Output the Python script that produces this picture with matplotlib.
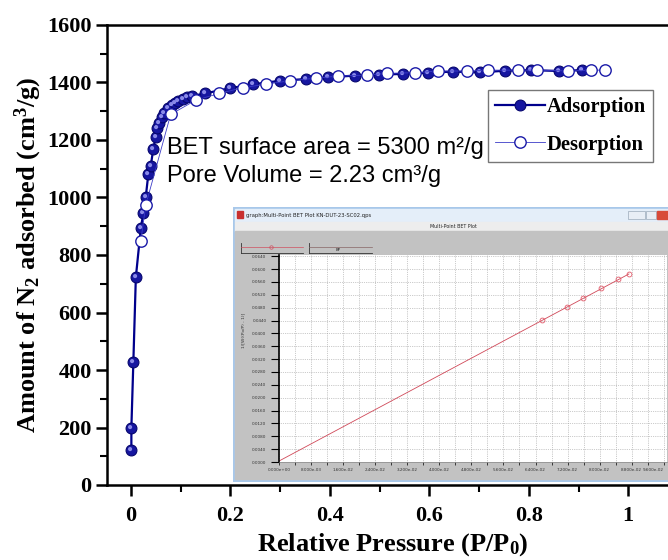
import numpy as np
import matplotlib
matplotlib.use('Agg')
import matplotlib.pyplot as plt
from matplotlib.markers import MarkerStyle
from matplotlib.transforms import Affine2D
from matplotlib.patches import Rectangle

plt.rcParams['mathtext.fontset'] = 'custom'
plt.rcParams['mathtext.rm'] = 'Liberation Serif:bold'
plt.rcParams['mathtext.it'] = 'Liberation Serif:bold'
plt.rcParams['mathtext.bf'] = 'Liberation Serif:bold'

# N2 isotherm (P/P0, cm3/g)
ads_p = [0.001, 0.001, 0.005, 0.010, 0.020, 0.025, 0.030, 0.035, 0.040, 0.045,
         0.050, 0.053, 0.057, 0.062, 0.066, 0.075, 0.082, 0.088, 0.095, 0.104,
         0.113, 0.123, 0.149, 0.199, 0.246, 0.300, 0.352, 0.397, 0.450, 0.499,
         0.547, 0.598, 0.648, 0.701, 0.752, 0.805, 0.861, 0.906]
ads_v = [122, 199, 429, 723, 893, 945, 1003, 1080, 1110, 1169,
         1211, 1241, 1260, 1279, 1293, 1312, 1322, 1328, 1336, 1342,
         1349, 1353, 1362, 1380, 1394, 1406, 1412, 1418, 1424, 1427,
         1430, 1434, 1438, 1435, 1441, 1443, 1440, 1443]
des_p = [0.953, 0.926, 0.879, 0.817, 0.779, 0.718, 0.675, 0.618, 0.571, 0.515,
         0.474, 0.416, 0.372, 0.320, 0.271, 0.225, 0.178, 0.131, 0.080, 0.030,
         0.020]
des_v = [1443, 1443, 1440, 1443, 1443, 1443, 1440, 1440, 1434, 1432,
         1426, 1422, 1415, 1406, 1394, 1382, 1362, 1339, 1289, 974,
         850]

# multi-point BET plot (screenshot inset)
bet_x = [0.0656, 0.0718, 0.0758, 0.0804, 0.0846, 0.0873]
bet_y = [0.0442, 0.0483, 0.0509, 0.0540, 0.0568, 0.0585]
fit_x = [0.0, 0.0873]
fit_y = [0.0003, 0.0585]

W, H = 668, 560
fig = plt.figure(figsize=(W / 100, H / 100), dpi=100)


def px_box(x0, y0, x1, y1):
    # pixel box with top-left origin -> figure fraction
    return [x0 / W, 1 - y1 / H, (x1 - x0) / W, (y1 - y0) / H]


serif = {'family': 'Liberation Serif', 'weight': 'bold'}

ax = fig.add_axes(px_box(107, 25, 678, 485))
ads_line, = ax.plot(ads_p, ads_v, '-', color='#00008c', lw=1.6, marker='o', ms=7.8,
                    mfc='#1616a0', mec='#06066e', mew=0.8, label='Adsorption', zorder=3)
shine = MarkerStyle('o', transform=Affine2D().scale(0.38).translate(-0.13, 0.13))
ax.plot(ads_p, ads_v, ls='none', marker=shine, ms=7.8, mfc='#8a8ae8', mec='none', zorder=3.5)
des_line, = ax.plot(des_p, des_v, '-', color='#3c3cc8', lw=0.6, marker='o', ms=8.2,
                    mfc='white', mec='#1a1aa8', mew=1.0, label='Desorption', zorder=4)

ax.set_xlim(-0.048, 1.1)
ax.set_ylim(0, 1600)
ax.set_xticks([0, 0.2, 0.4, 0.6, 0.8, 1.0])
ax.set_xticklabels(['0', '0.2', '0.4', '0.6', '0.8', '1'])
ax.set_xticks([0.1, 0.3, 0.5, 0.7, 0.9], minor=True)
ax.set_yticks(np.arange(0, 1601, 200))
ax.set_yticks(np.arange(100, 1600, 200), minor=True)
ax.tick_params(which='major', direction='out', length=8, width=1.8, labelsize=16)
ax.tick_params(axis='x', which='major', pad=7)
ax.tick_params(axis='y', which='major', pad=3)
ax.tick_params(which='minor', direction='out', length=5, width=1.5)
for lab in ax.get_xticklabels() + ax.get_yticklabels():
    lab.set_fontfamily('Liberation Serif')
    lab.set_fontweight('bold')
for sp in ax.spines.values():
    sp.set_linewidth(1.8)

ax.set_xlabel('Relative Pressure (P/P$_0$)', fontsize=19, labelpad=4, **serif)
ax.set_ylabel('Amount of N$_2$ adsorbed (cm$^3$/g)', fontsize=19, labelpad=2, **serif)

ax.text(0.072, 1172, 'BET surface area = 5300 m²/g', fontsize=17,
        family='Liberation Sans', va='center', ha='left')
ax.text(0.072, 1075, 'Pore Volume = 2.23 cm³/g', fontsize=17,
        family='Liberation Sans', va='center', ha='left')

leg = ax.legend(handles=[ads_line, des_line], loc='upper left',
                bbox_to_anchor=((488 - 107) / 571, (485 - 90) / 460),
                borderaxespad=0, fancybox=False, edgecolor='#555555',
                handlelength=2.4, handletextpad=0.1, labelspacing=0.85,
                borderpad=0.35, prop={'family': 'Liberation Serif', 'weight': 'bold', 'size': 14.8})
leg.get_frame().set_linewidth(1.0)

# screenshot window frame
win = fig.add_axes(px_box(233, 207, 680, 482))
win.set_xlim(233, 680)
win.set_ylim(482, 207)
win.axis('off')
win.add_patch(Rectangle((233, 207), 447, 275, color='#a8c8ea', zorder=0))
win.add_patch(Rectangle((235, 209), 445, 13, color='#e4eef9', zorder=1))
win.add_patch(Rectangle((237, 211), 6, 7, color='#c83030', zorder=2))
win.text(246, 215.5, 'graph:Multi-Point BET Plot KN-DUT-23-SC02.qps', fontsize=3.8,
         color='#222222', va='center', ha='left', zorder=3)
win.add_patch(Rectangle((628, 211), 17, 8, facecolor='#e8eef6', edgecolor='#8899aa', lw=0.4, zorder=2))
win.add_patch(Rectangle((646, 211), 10, 8, facecolor='#e8eef6', edgecolor='#8899aa', lw=0.4, zorder=2))
win.add_patch(Rectangle((657, 211), 12, 8, color='#d84a3a', zorder=2))
win.add_patch(Rectangle((235, 222), 445, 9, color='#ededed', zorder=1))
win.text(453, 226.5, 'Multi-Point BET Plot', fontsize=3.4, color='#222222',
         va='center', ha='center', zorder=3)
win.add_patch(Rectangle((235, 231), 445, 248, color='#c2c2c2', zorder=1))
# legend tabs of the screenshot
win.plot([241, 241], [243, 253], color='#333333', lw=0.6, zorder=3)
win.plot([241, 303], [253, 253], color='#333333', lw=0.6, zorder=3)
win.plot([241, 303], [247, 247], color='#d05060', lw=0.5, zorder=3)
win.plot([271], [247], marker='o', ms=2.5, mfc='none', mec='#d05060', mew=0.5, zorder=4)
win.plot([309, 309], [243, 253], color='#333333', lw=0.6, zorder=3)
win.plot([309, 372], [253, 253], color='#333333', lw=0.6, zorder=3)
win.plot([309, 372], [247, 247], color='#886666', lw=0.5, zorder=3)
win.text(338, 250, 'BP', fontsize=2.8, color='#222222', ha='center', va='center', zorder=4)
win.text(243, 330, '1/[W((Po/P) - 1)]', fontsize=3.2, color='#333333', rotation=90,
         ha='center', va='center', zorder=3)

# BET plot area
pa = fig.add_axes(px_box(279, 255, 667, 462))
pa.set_facecolor('white')
pa.plot(fit_x, fit_y, color='#d04858', lw=0.6)
pa.plot(bet_x, bet_y, ls='none', marker='o', ms=3.5, mfc='none', mec='#e05868', mew=0.6)
pa.set_xlim(0, 0.0968)
pa.set_ylim(0, 0.0644)
xt = np.arange(0, 0.0969, 0.008)
pa.set_xticks(xt)
pa.set_xticklabels(['%.3e' % v for v in xt])
pa.get_xticklabels()[-1].set_horizontalalignment('right')
pa.set_xticks(np.arange(0.004, 0.0969, 0.008), minor=True)
yt = np.arange(0, 0.0641, 0.004)
pa.set_yticks(yt)
pa.set_yticklabels(['%.4f' % v for v in yt])
pa.grid(True, which='both', ls=':', color='#9a9a9a', lw=0.5)
pa.tick_params(axis='y', direction='out', length=6, width=0.8, pad=3,
               labelsize=3, labelcolor='#333333')
pa.tick_params(axis='x', which='both', direction='out', length=2, width=0.5, pad=2,
               labelsize=3, labelcolor='#333333')
pa.spines['left'].set_linewidth(1.2)
pa.spines['bottom'].set_color('#888888')
pa.spines['bottom'].set_linewidth(0.5)
pa.spines['top'].set_visible(False)
pa.spines['right'].set_visible(False)

fig.savefig('out.png', dpi=100)
